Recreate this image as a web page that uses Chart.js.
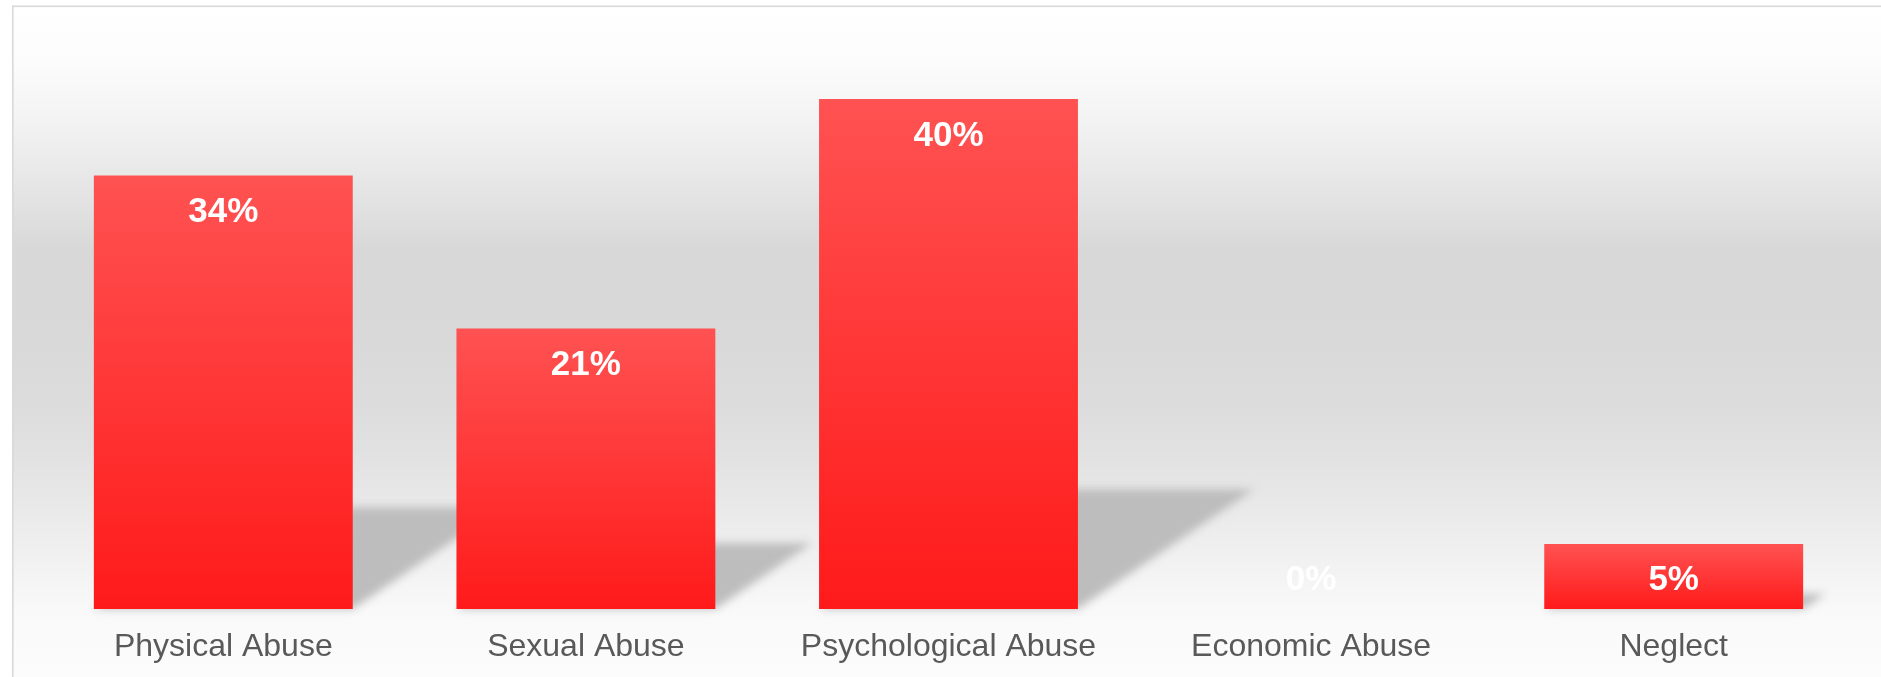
<!DOCTYPE html>
<html><head><meta charset="utf-8">
<script src="https://cdn.jsdelivr.net/npm/chart.js@4.4.0/dist/chart.umd.min.js"></script>
<style>html,body{margin:0;padding:0;background:#fff;overflow:hidden}#wrap{width:1881px;height:677px;position:relative}canvas{display:block}</style>
</head><body><div id="wrap"><canvas id="c" width="1881" height="677"></canvas></div>
<script>
const categories = ['Physical Abuse', 'Sexual Abuse', 'Psychological Abuse', 'Economic Abuse', 'Neglect'];
const values = [34, 22, 40, 0, 5.1];
const valueLabels = ['34%', '21%', '40%', '0%', '5%'];
const yMin = 0;
const yMax = 46;

const W = 1881, H = 677;
const FONT = "'Liberation Sans', Arial, Helvetica, sans-serif";

const bgPlugin = {
  id: 'bg',
  beforeDraw(chart) {
    const ctx = chart.ctx;
    ctx.save();
    ctx.fillStyle = '#ffffff';
    ctx.fillRect(0, 0, W, H);
    const g = ctx.createLinearGradient(0, 7, 0, H);
    const stops = [[7,'#ffffff'],[60,'#fcfcfc'],[120,'#f3f3f3'],[180,'#e7e7e7'],[250,'#d8d8d8'],[320,'#d8d8d8'],[400,'#dcdcdc'],[450,'#e1e1e1'],[500,'#e8e8e8'],[560,'#f1f1f1'],[610,'#f9f9f9'],[677,'#fcfcfc']];
    stops.forEach(([y, c]) => g.addColorStop((y - 7) / (H - 7), c));
    ctx.fillStyle = g;
    ctx.fillRect(13, 7, W - 13, H - 7);
    ctx.fillStyle = '#d9d9d9';
    ctx.fillRect(12, 5.5, W - 12, 1.6);
    ctx.fillRect(12, 5.5, 1.6, H);
    ctx.restore();
  }
};

const shadowPlugin = {
  id: 'shadow',
  beforeDatasetsDraw(chart) {
    const ctx = chart.ctx;
    const meta = chart.getDatasetMeta(0);
    ctx.save();
    ctx.filter = 'blur(4px)';
    ctx.fillStyle = '#bdbdbd';
    meta.data.forEach(bar => {
      const p = bar.getProps(['x', 'y', 'base', 'width'], true);
      const h = p.base - p.y;
      if (h <= 0) return;
      const l = p.x - p.width / 2, r = p.x + p.width / 2;
      const dx = h * 0.345, dy = h * 0.235;
      ctx.beginPath();
      ctx.moveTo(l, p.base);
      ctx.lineTo(r, p.base);
      ctx.lineTo(r + dx, p.base - dy);
      ctx.lineTo(l + dx, p.base - dy);
      ctx.closePath();
      ctx.fill();
    });
    ctx.restore();
  }
};

const labelPlugin = {
  id: 'vlabels',
  afterDatasetsDraw(chart) {
    const ctx = chart.ctx;
    const meta = chart.getDatasetMeta(0);
    ctx.save();
    ctx.fillStyle = '#ffffff';
    ctx.font = 'bold 35px ' + FONT;
    ctx.textAlign = 'center';
    ctx.textBaseline = 'middle';
    meta.data.forEach((bar, i) => {
      const p = bar.getProps(['x', 'y', 'base'], true);
      const y = Math.min(p.y + 37, p.base - 29);
      ctx.fillText(valueLabels[i], p.x, y);
    });
    ctx.restore();
  }
};

new Chart(document.getElementById('c'), {
  type: 'bar',
  data: {
    labels: categories,
    datasets: [{
      data: values,
      backgroundColor(c) {
        const chart = c.chart;
        if (!chart.chartArea || !chart.scales.y) return '#ff3030';
        const ys = chart.scales.y;
        const v = c.raw || 0;
        const top = ys.getPixelForValue(v), bot = ys.getPixelForValue(0);
        if (bot - top < 1) return '#ff3030';
        const g = chart.ctx.createLinearGradient(0, top, 0, bot);
        g.addColorStop(0, '#ff5252');
        g.addColorStop(0.5, '#ff3636');
        g.addColorStop(1, '#ff1a1a');
        return g;
      },
      borderWidth: 0,
      categoryPercentage: 1,
      barPercentage: 0.714
    }]
  },
  options: {
    responsive: false,
    devicePixelRatio: 1,
    animation: false,
    layout: { padding: { left: 42, right: 26, top: 22.5, bottom: 11 } },
    plugins: { legend: { display: false }, tooltip: { enabled: false } },
    scales: {
      x: {
        grid: { display: false, drawTicks: false },
        border: { display: false },
        ticks: { color: '#595959', font: { family: FONT, size: 32 }, padding: 19, maxRotation: 0, autoSkip: false },
        afterFit(scale) { scale.height = 57; }
      },
      y: { display: false, min: yMin, max: yMax }
    }
  },
  plugins: [bgPlugin, shadowPlugin, labelPlugin]
});
</script></body></html>
